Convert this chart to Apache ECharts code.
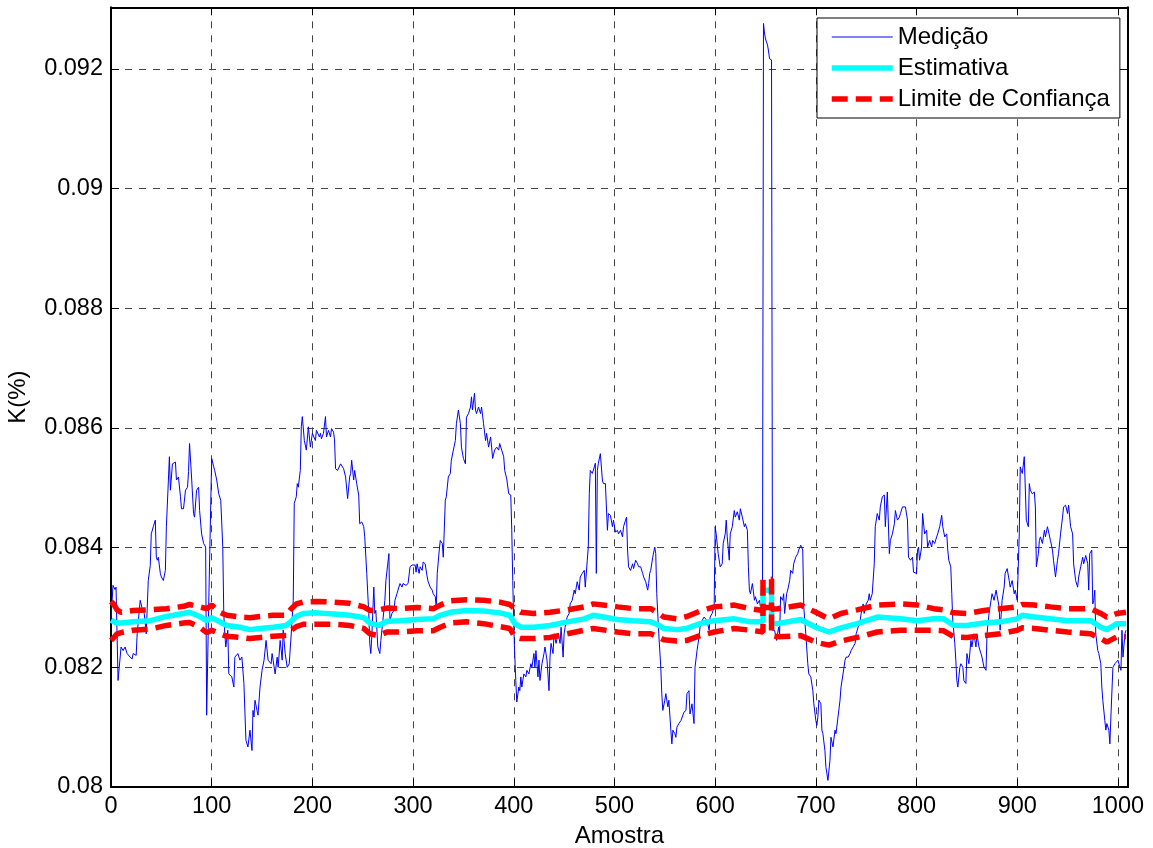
<!DOCTYPE html>
<html>
<head>
<meta charset="utf-8">
<title>K(%) por amostra</title>
<script src="https://cdn.jsdelivr.net/npm/echarts@6/dist/echarts.min.js"></script>
<style>
  html, body { margin: 0; padding: 0; background: #fff; }
  #chart { width: 1153px; height: 848px; }
</style>
</head>
<body>
<div id="chart"></div>
<script>
// Medição: [amostra, K(%)]
const medicao = [
  [0,0.0828],[2,0.08337],[4,0.0833],[5,0.08334],[7,0.08178],[10,0.08234],[12,0.08228],[14,0.08234],
  [16,0.08223],[19,0.08217],[21,0.08214],[22,0.08223],[25,0.0822],[26,0.08256],[29,0.08312],[31,0.08298],
  [33,0.0829],[35,0.08256],[37,0.08345],[39,0.0837],[40,0.08423],[42,0.08435],[44,0.08446],[45,0.08384],
  [46,0.08379],[47,0.08384],[49,0.08357],[50,0.08351],[52,0.08345],[54,0.08362],[55,0.08435],[58,0.08552],
  [59,0.08496],[61,0.0854],[64,0.08543],[65,0.08513],[67,0.08518],[69,0.08485],[70,0.08465],[72,0.08465],
  [74,0.08496],[76,0.08501],[77,0.08527],[78,0.08574],[80,0.08518],[82,0.08457],[83,0.08451],[85,0.08496],
  [87,0.08501],[88,0.08462],[90,0.08423],[92,0.08407],[94,0.08401],[95,0.0812],[97,0.08301],[99,0.08468],
  [100,0.08549],[102,0.08535],[103,0.08529],[105,0.08513],[107,0.0849],[109,0.08479],[111,0.08401],[112,0.0829],
  [113,0.08256],[114,0.08234],[116,0.08262],[117,0.08189],[120,0.08184],[122,0.08167],[123,0.08217],[126,0.08223],
  [128,0.08212],[130,0.08217],[132,0.08173],[134,0.08078],[136,0.08067],[138,0.08095],[140,0.08061],[141,0.08128],
  [142,0.08117],[143,0.08145],[145,0.08128],[146,0.0812],[148,0.08167],[150,0.08195],[152,0.08212],[154,0.08245],
  [156,0.08212],[159,0.08206],[160,0.08223],[163,0.08189],[165,0.08217],[166,0.082],[168,0.08245],[170,0.08212],
  [171,0.08262],[173,0.08223],[175,0.082],[177,0.08206],[179,0.08256],[181,0.08312],[182,0.08474],[184,0.08485],
  [185,0.08507],[186,0.08501],[188,0.08529],[189,0.08602],[190,0.08619],[192,0.08579],[194,0.08563],[196,0.08602],
  [198,0.08568],[200,0.08591],[203,0.08579],[204,0.08596],[207,0.08585],[208,0.08591],[209,0.08582],[211,0.08591],
  [213,0.08619],[214,0.08585],[216,0.08596],[218,0.08585],[219,0.08599],[221,0.08593],[222,0.0858],[223,0.08532],
  [225,0.08529],[228,0.0854],[231,0.08532],[233,0.08518],[235,0.08482],[237,0.08518],[238,0.08524],[239,0.08546],
  [241,0.08513],[242,0.08529],[244,0.08507],[246,0.08488],[247,0.0844],[249,0.08443],[251,0.08435],[252,0.08418],
  [254,0.08357],[256,0.0829],[257,0.0824],[258,0.08223],[259,0.08251],[261,0.08334],[262,0.0829],[263,0.08295],
  [265,0.08234],[267,0.08223],[268,0.08245],[270,0.08278],[272,0.08312],[273,0.08345],[276,0.0839],[277,0.08278],
  [279,0.0829],[281,0.08295],[282,0.08312],[284,0.08323],[285,0.08329],[287,0.0834],[289,0.08334],[290,0.0834],
  [293,0.08337],[295,0.0834],[297,0.08368],[299,0.08371],[300,0.08373],[302,0.08371],[303,0.08359],[304,0.08373],
  [306,0.08357],[307,0.08368],[309,0.08362],[310,0.08376],[312,0.08373],[314,0.08351],[315,0.08343],[317,0.08334],
  [319,0.08329],[320,0.08323],[322,0.08318],[323,0.08301],[324,0.08357],[326,0.08396],[327,0.08412],[329,0.08407],
  [330,0.08384],[332,0.08479],[333,0.08485],[335,0.08518],[337,0.08524],[338,0.08546],[340,0.08563],[342,0.08579],
  [343,0.08607],[345,0.0863],[347,0.08607],[348,0.08568],[350,0.08549],[352,0.0854],[353,0.08618],[355,0.08624],
  [357,0.08635],[358,0.08652],[359,0.0863],[361,0.08658],[362,0.0863],[363,0.08624],[365,0.08635],[367,0.08624],
  [368,0.08635],[370,0.08607],[372,0.08579],[373,0.08591],[375,0.08568],[377,0.08585],[378,0.08568],[379,0.08549],
  [381,0.08563],[383,0.08568],[385,0.08563],[386,0.08574],[388,0.08563],[390,0.08552],[391,0.08529],[393,0.08515],
  [395,0.0849],[396,0.08488],[397,0.08488],[398,0.0843],[399,0.08345],[400,0.08267],[401,0.0822],[402,0.08178],
  [403,0.08142],[405,0.08167],[406,0.08161],[407,0.08184],[408,0.08167],[410,0.08189],[412,0.08184],[413,0.08195],
  [415,0.08189],[417,0.08206],[418,0.082],[420,0.08223],[421,0.082],[422,0.08228],[424,0.08184],[425,0.08212],
  [426,0.08178],[428,0.08206],[430,0.08223],[431,0.08234],[433,0.08212],[435,0.08161],[436,0.08217],[437,0.0824],
  [439,0.08223],[440,0.08256],[442,0.0824],[444,0.08256],[446,0.0824],[447,0.08267],[449,0.08217],[450,0.08256],
  [451,0.08267],[453,0.08284],[455,0.0829],[456,0.08306],[458,0.08312],[460,0.08329],[461,0.08323],[463,0.08343],
  [465,0.08329],[466,0.08351],[468,0.08357],[470,0.08362],[471,0.08334],[473,0.08379],[474,0.08401],[475,0.0849],
  [476,0.08529],[478,0.08524],[480,0.08535],[481,0.08541],[482,0.08357],[483,0.08529],[484,0.08541],[486,0.08557],
  [488,0.08513],[489,0.08507],[491,0.08507],[493,0.08429],[494,0.08457],[496,0.08454],[498,0.08435],[499,0.08446],
  [501,0.08426],[503,0.08429],[504,0.08423],[506,0.08429],[508,0.08418],[509,0.08435],[511,0.08446],[512,0.08451],
  [513,0.08396],[514,0.08368],[516,0.08362],[518,0.08373],[519,0.08365],[521,0.08379],[523,0.08373],[524,0.08368],
  [526,0.08368],[528,0.08357],[529,0.08351],[531,0.08343],[533,0.08329],[534,0.0834],[535,0.08357],[536,0.08362],
  [538,0.08384],[540,0.08401],[541,0.0839],[542,0.08323],[544,0.08256],[546,0.082],[547,0.08156],[548,0.08128],
  [550,0.08145],[551,0.08156],[553,0.08134],[554,0.08145],[556,0.08095],[557,0.08072],[558,0.08095],[560,0.08089],
  [561,0.08083],[562,0.081],[564,0.08106],[566,0.08111],[567,0.08108],[569,0.08125],[571,0.08128],[572,0.08156],
  [574,0.08161],[575,0.08122],[577,0.08139],[579,0.08106],[580,0.082],[582,0.08228],[584,0.08251],[585,0.08267],
  [587,0.08278],[589,0.08284],[590,0.08284],[592,0.08278],[594,0.08262],[595,0.08284],[597,0.0829],[599,0.08301],
  [600,0.08435],[601,0.08423],[603,0.0839],[605,0.08368],[607,0.08373],[608,0.08407],[610,0.08423],[611,0.08446],
  [612,0.08418],[614,0.08379],[615,0.08423],[617,0.08435],[619,0.08462],[620,0.08451],[622,0.0846],[624,0.08446],
  [625,0.08465],[627,0.08451],[629,0.08435],[630,0.0844],[632,0.08429],[633,0.08368],[634,0.08329],[635,0.08323],
  [637,0.0834],[639,0.08312],[640,0.08318],[642,0.08306],[644,0.08312],[645,0.08301],[647,0.08312],[648,0.09276],
  [649,0.0926],[650,0.0925],[651,0.09248],[652,0.0924],[653,0.0923],[654,0.09217],[655,0.0922],[656,0.09215],
  [657,0.08262],[659,0.08262],[661,0.08245],[663,0.08267],[664,0.08256],[665,0.08318],[667,0.08312],[668,0.08323],
  [669,0.0829],[671,0.08323],[672,0.08329],[674,0.08345],[675,0.08362],[677,0.08357],[678,0.08373],[680,0.08384],
  [682,0.0839],[683,0.08396],[685,0.08404],[687,0.08396],[688,0.08301],[690,0.08256],[692,0.08206],[693,0.08189],
  [695,0.08184],[697,0.08161],[698,0.08139],[700,0.08111],[701,0.08103],[702,0.08117],[703,0.08145],[705,0.08139],
  [706,0.08095],[707,0.08089],[709,0.08061],[710,0.08033],[711,0.08022],[712,0.08011],[714,0.08044],[715,0.08083],
  [717,0.08067],[719,0.08095],[720,0.08089],[722,0.08117],[724,0.08145],[725,0.08167],[727,0.08189],[729,0.08212],
  [730,0.08217],[732,0.08217],[734,0.08223],[735,0.08228],[737,0.08234],[739,0.0824],[740,0.08256],[742,0.08267],
  [744,0.08278],[745,0.0829],[747,0.08306],[748,0.0829],[750,0.08306],[752,0.08312],[753,0.08323],[754,0.08312],
  [756,0.08323],[758,0.08373],[759,0.08435],[761,0.08457],[763,0.08446],[764,0.08468],[766,0.08485],[768,0.08488],
  [769,0.08435],[771,0.08493],[773,0.0839],[774,0.08412],[776,0.08423],[778,0.0844],[779,0.08462],[781,0.08446],
  [783,0.08451],[784,0.08457],[786,0.08468],[787,0.08468],[789,0.08468],[791,0.08446],[792,0.08384],[794,0.08379],
  [796,0.08384],[797,0.08359],[800,0.08357],[801,0.08396],[802,0.08401],[803,0.08379],[805,0.08401],[806,0.08457],
  [808,0.08423],[810,0.08429],[811,0.08401],[813,0.08412],[815,0.08401],[816,0.08412],[818,0.08407],[820,0.08418],
  [821,0.08423],[823,0.08435],[825,0.08454],[826,0.08435],[828,0.08418],[830,0.08423],[831,0.08396],[832,0.08379],
  [834,0.08368],[835,0.08323],[836,0.08278],[838,0.0824],[839,0.08212],[840,0.08178],[841,0.08167],[843,0.082],
  [844,0.08206],[846,0.082],[847,0.08178],[849,0.08173],[850,0.08223],[852,0.08206],[854,0.08245],[855,0.08234],
  [857,0.08256],[859,0.08234],[860,0.08256],[862,0.08234],[864,0.08223],[865,0.08217],[867,0.082],[869,0.08195],
  [870,0.08256],[872,0.0829],[874,0.08312],[875,0.08323],[877,0.08312],[879,0.08329],[880,0.08329],[882,0.08301],
  [883,0.08262],[885,0.08312],[887,0.08334],[888,0.08357],[890,0.08365],[892,0.08345],[893,0.08334],[895,0.08345],
  [897,0.08323],[898,0.08329],[900,0.08312],[902,0.08423],[903,0.08535],[904,0.08529],[905,0.08524],[907,0.08552],
  [908,0.08554],[909,0.08446],[911,0.08435],[912,0.08507],[913,0.08496],[915,0.0849],[917,0.08493],[918,0.08468],
  [919,0.08368],[921,0.0839],[922,0.08412],[923,0.08418],[925,0.08407],[927,0.08429],[928,0.08418],[930,0.08435],
  [931,0.08435],[933,0.08412],[935,0.08396],[936,0.08379],[938,0.08351],[940,0.08379],[941,0.0839],[943,0.08423],
  [945,0.08451],[946,0.08468],[948,0.08471],[950,0.08457],[951,0.08471],[953,0.08435],[955,0.08423],[956,0.08373],
  [958,0.08345],[960,0.08334],[961,0.08351],[963,0.08368],[965,0.08384],[966,0.08373],[968,0.08387],[970,0.08373],
  [971,0.08329],[972,0.0839],[974,0.08396],[975,0.08306],[976,0.08312],[977,0.08329],[978,0.08256],[980,0.08228],
  [981,0.08223],[983,0.08206],[984,0.08167],[985,0.08145],[987,0.08111],[988,0.08095],[989,0.08106],[991,0.08095],
  [992,0.08072],[993,0.08117],[995,0.082],[997,0.08206],[998,0.08209],[1000,0.08212],[1002,0.082],[1003,0.08195],
  [1004,0.08262],[1005,0.08217],[1007,0.08256],[1008,0.08262]
];

// Estimativa e limites de confiança (superior / inferior) por amostra
const amostrasEst = [0,3,6,10,22,39,55,72,78,88,95,100,108,115,128,138,148,161,174,179,184,191,204,221,237,251,257,266,274,287,304,320,327,337,353,370,386,396,401,407,420,436,453,470,479,503,519,536,542,549,562,572,585,599,619,635,647.5,647.5,656,656,662,685,700,713,725,741,761,784,801,817,827,837,850,867,883,900,905,917,933,950,973,983,989,999,1008];
const estimativa = [0.08279,0.08276,0.08274,0.08274,0.08276,0.08278,0.08285,0.0829,0.08292,0.08285,0.08278,0.08283,0.08276,0.0827,0.08267,0.08263,0.08265,0.08267,0.0827,0.08277,0.08285,0.0829,0.08291,0.08289,0.08287,0.08283,0.08274,0.0827,0.08277,0.08278,0.0828,0.08281,0.08287,0.08292,0.08295,0.08294,0.08291,0.08287,0.08273,0.08267,0.08267,0.0827,0.08276,0.08281,0.08287,0.0828,0.08278,0.08276,0.08272,0.08265,0.08263,0.08265,0.08273,0.08278,0.08281,0.08276,0.08276,0.08329,0.08329,0.08274,0.08273,0.0828,0.08267,0.08259,0.08266,0.08273,0.08284,0.08281,0.08278,0.08281,0.08281,0.0827,0.0827,0.08274,0.08276,0.08281,0.08287,0.08284,0.08281,0.08278,0.08278,0.08267,0.08263,0.08273,0.08273];
const limiteSuperior = [0.0831,0.08305,0.08296,0.08292,0.08295,0.08296,0.08298,0.08302,0.08305,0.08301,0.08298,0.08304,0.08292,0.08287,0.08284,0.08283,0.08285,0.08287,0.08287,0.08298,0.08306,0.08309,0.0831,0.08309,0.08307,0.08301,0.08295,0.08296,0.08299,0.08298,0.083,0.08298,0.08304,0.08311,0.08313,0.08312,0.08309,0.08305,0.08298,0.08292,0.0829,0.08292,0.08296,0.08301,0.08306,0.08301,0.08298,0.08298,0.08292,0.08284,0.08281,0.08285,0.08294,0.08301,0.08304,0.08298,0.08295,0.08347,0.08347,0.08297,0.08298,0.08304,0.08292,0.08281,0.0829,0.08296,0.08304,0.08306,0.08304,0.08298,0.08296,0.08291,0.0829,0.08295,0.08298,0.08301,0.08305,0.08304,0.08301,0.08298,0.08298,0.0829,0.08284,0.0829,0.08292];
const limiteInferior = [0.08245,0.0825,0.08256,0.08258,0.08262,0.08264,0.0827,0.08274,0.08275,0.08267,0.08258,0.08262,0.08256,0.08252,0.0825,0.08248,0.0825,0.08252,0.08253,0.08262,0.08268,0.08272,0.08272,0.08272,0.0827,0.08265,0.08256,0.08253,0.08259,0.08259,0.08261,0.08261,0.08267,0.08274,0.08276,0.08273,0.08268,0.08265,0.08251,0.08248,0.08248,0.0825,0.08256,0.08262,0.08265,0.08259,0.08256,0.08256,0.08252,0.08246,0.08244,0.08245,0.08253,0.08259,0.08265,0.08262,0.08259,0.083,0.083,0.08253,0.08251,0.08253,0.08242,0.08237,0.08244,0.0825,0.08259,0.08262,0.08262,0.08262,0.08261,0.08251,0.0825,0.08253,0.08256,0.08262,0.08266,0.08265,0.08262,0.08259,0.08256,0.08248,0.08242,0.08251,0.08251];

// Eixos
const xTicks = [0,100,200,300,400,500,600,700,800,900,1000];
const yTicks = [0.08,0.082,0.084,0.086,0.088,0.09,0.092];

const zip = (xs, ys) => xs.map((x, i) => [x, ys[i]]);

const FONT = '"Liberation Sans", Arial, Helvetica, sans-serif';
const TICK_SIZE = 23.5;
const gridDash = { color: '#444', width: 1, type: [7, 7] };
const LW = 5.5;
const redDash = [16, 8];

const chart = echarts.init(document.getElementById('chart'), null, { renderer: 'canvas' });

const xLabel = v => {
  const hit = xTicks.find(t => Math.abs(t - v) < 1e-6);
  return hit === undefined ? '' : String(hit);
};
const yLabel = v => {
  const hit = yTicks.find(t => Math.abs(t - v) < 1e-9);
  return hit === undefined ? '' : String(+hit.toFixed(3));
};

const boxAxis = {
  axisLine: { show: true, onZero: false, lineStyle: { color: '#000', width: 2 } },
  axisTick: { show: true, inside: true, length: 8, lineStyle: { color: '#000', width: 1 } }
};

chart.setOption({
  animation: false,
  backgroundColor: '#fff',
  textStyle: { fontFamily: FONT, color: '#000' },
  grid: { left: 111, right: 25, top: 7.3, bottom: 61, containLabel: false, outerBoundsMode: 'none' },
  legend: {
    data: [
      { name: 'Medição', lineStyle: { width: 1 } },
      { name: 'Estimativa', lineStyle: { width: LW } },
      { name: 'Limite de Confiança', lineStyle: { width: LW, type: redDash } }
    ],
    orient: 'vertical',
    left: 817,
    top: 18,
    padding: [7, 10, 7, 12],
    itemWidth: 61,
    itemHeight: 14,
    itemGap: 7,
    backgroundColor: '#fff',
    borderColor: '#000',
    borderWidth: 1,
    borderRadius: 0,
    itemStyle: { color: 'rgba(0,0,0,0)', borderWidth: 0, opacity: 0 },
    textStyle: { fontFamily: FONT, fontSize: 24, color: '#000' },
    selectedMode: false
  },
  xAxis: [Object.assign({
    type: 'value',
    min: 0, max: 1010, interval: 100,
    name: 'Amostra', nameLocation: 'middle', nameGap: 37,
    nameTextStyle: { fontFamily: FONT, fontSize: 24, color: '#000' },
    axisLabel: { fontFamily: FONT, fontSize: TICK_SIZE, color: '#000', margin: 8, formatter: xLabel, showMaxLabel: false },
    splitLine: { show: true, lineStyle: gridDash }
  }, boxAxis), Object.assign({
    type: 'value', position: 'top',
    min: 0, max: 1010, interval: 100,
    axisLabel: { show: false },
    splitLine: { show: false }
  }, boxAxis)],
  yAxis: [Object.assign({
    type: 'value',
    min: 0.08, max: 0.09303, interval: 0.002,
    name: 'K(%)', nameLocation: 'middle', nameGap: 81, nameRotate: 90,
    nameTextStyle: { fontFamily: FONT, fontSize: 24, color: '#000' },
    axisLabel: { fontFamily: FONT, fontSize: TICK_SIZE, color: '#000', margin: 8, formatter: yLabel, showMaxLabel: false },
    splitLine: { show: true, lineStyle: gridDash }
  }, boxAxis), Object.assign({
    type: 'value', position: 'right',
    min: 0.08, max: 0.09303, interval: 0.002,
    axisLabel: { show: false },
    splitLine: { show: false }
  }, boxAxis)],
  series: [
    {
      name: 'Medição', type: 'line',
      data: medicao,
      showSymbol: false, symbol: 'none',
      lineStyle: { color: '#0000ff', width: 1 },
      itemStyle: { color: '#0000ff' },
      z: 2
    },
    {
      name: 'Estimativa', type: 'line',
      data: zip(amostrasEst, estimativa),
      showSymbol: false, symbol: 'none',
      lineStyle: { color: '#00ffff', width: LW },
      itemStyle: { color: '#00ffff' },
      z: 3
    },
    {
      name: 'Limite de Confiança', type: 'line',
      data: zip(amostrasEst, limiteSuperior),
      showSymbol: false, symbol: 'none',
      lineStyle: { color: '#ff0000', width: LW, type: redDash },
      itemStyle: { color: '#ff0000' },
      z: 4
    },
    {
      name: 'Limite de Confiança', type: 'line',
      data: zip(amostrasEst, limiteInferior),
      showSymbol: false, symbol: 'none',
      lineStyle: { color: '#ff0000', width: LW, type: redDash },
      itemStyle: { color: '#ff0000' },
      z: 4
    }
  ]
});
</script>
</body>
</html>
